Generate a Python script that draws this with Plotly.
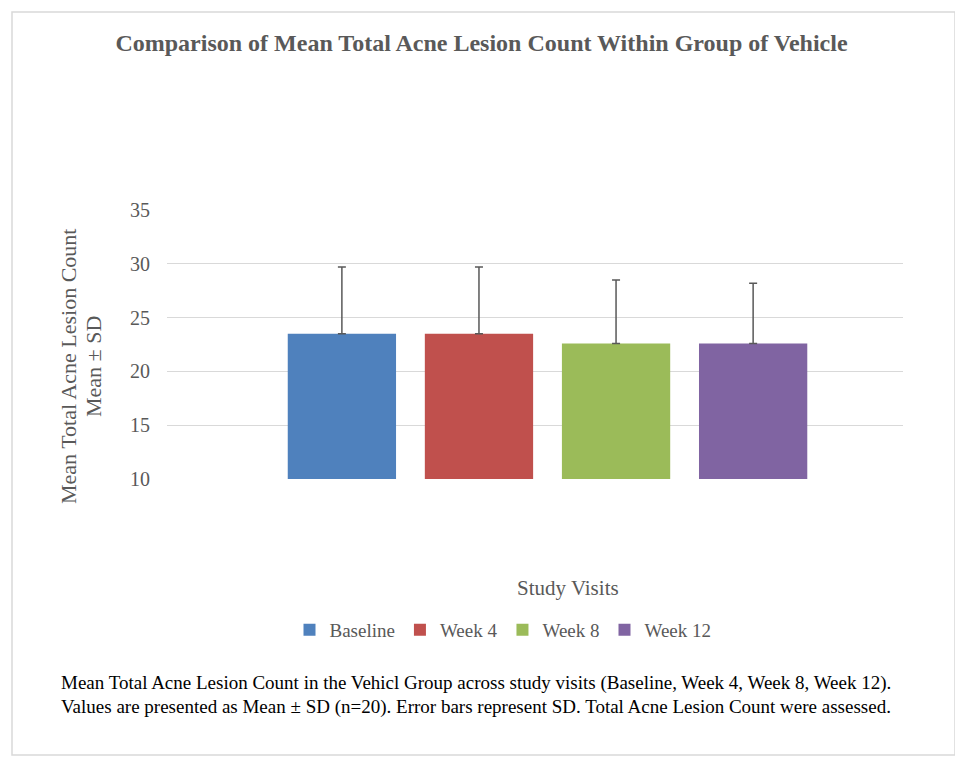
import plotly.graph_objects as go

# Chart data
visits = ["Baseline", "Week 4", "Week 8", "Week 12"]
mean_count = [23.5, 23.5, 22.6, 22.6]
sd_count = [6.2, 6.2, 5.9, 5.6]
group_label = ["Vehicle"]
bar_colors = ["#4F81BD", "#C0504D", "#9BBB59", "#8064A2"]

y_title_lines = ["Mean Total Acne Lesion Count", "Mean ± SD"]
caption_lines = [
    "Mean Total Acne Lesion Count in the Vehicl Group across study visits (Baseline, Week 4, Week 8, Week 12).",
    "Values are presented as Mean ± SD (n=20). Error bars represent SD. Total Acne Lesion Count were assessed.",
]

FONT = "Liberation Serif"
GREY = "#595959"

# The page body has an 8px margin, so the figure is 947x754 drawn at (8, 8).
OFF = 8
W, H = 963 - 2 * OFF, 770 - 2 * OFF
L, R, T, B = 167 - OFF, 963 - 903 - OFF, 210 - OFF, 770 - 479 - OFF
PW, PH = W - L - R, H - T - B


def px_x(x):
    # window pixel -> paper x
    return (x - OFF - L) / PW


def px_y(y):
    # window pixel -> paper y
    return (H - B - (y - OFF)) / PH


fig = go.Figure()

for visit, m, sd, color in zip(visits, mean_count, sd_count, bar_colors):
    fig.add_trace(
        go.Bar(
            name=visit,
            x=group_label,
            y=[m],
            marker=dict(color=color, line=dict(width=0)),
            error_y=dict(
                type="data",
                symmetric=False,
                array=[sd],
                arrayminus=[0],
                color=GREY,
                thickness=1.5,
                width=4,
            ),
        )
    )

# Axis titles and caption as annotations
annotations = [
    dict(
        text="Study Visits",
        x=px_x(568), y=px_y(588), xref="paper", yref="paper",
        showarrow=False,
        font=dict(family=FONT, size=21, color=GREY),
        xanchor="center", yanchor="middle",
    ),
]
for i, line in enumerate(y_title_lines):
    annotations.append(
        dict(
            text=line,
            x=px_x(68 + 25 * i), y=px_y(367), xref="paper", yref="paper",
            textangle=-90, showarrow=False,
            font=dict(family=FONT, size=22, color=GREY),
            xanchor="center", yanchor="middle",
        )
    )
for i, line in enumerate(caption_lines):
    annotations.append(
        dict(
            text=line,
            x=px_x(59), y=px_y(683 + 24 * i), xref="paper", yref="paper",
            showarrow=False, align="left",
            font=dict(family=FONT, size=19, color="#000000"),
            xanchor="left", yanchor="middle",
        )
    )

fig.update_layout(
    title=dict(
        text="<b>Comparison of Mean Total Acne Lesion Count Within Group of Vehicle</b>",
        x=0.5, xanchor="center",
        y=1 - (43 - OFF) / H, yanchor="middle", yref="container",
        font=dict(family=FONT, size=24, color=GREY),
    ),
    barmode="group",
    bargap=0.255,
    bargroupgap=0.21,
    margin=dict(l=L, r=R, t=T, b=B, pad=0),
    paper_bgcolor="white",
    plot_bgcolor="white",
    font=dict(family=FONT, size=19, color=GREY),
    showlegend=True,
    legend=dict(
        orientation="h",
        x=px_x(503), y=px_y(630),
        xanchor="center", yanchor="middle",
        font=dict(family=FONT, size=19, color=GREY),
        itemwidth=30,
        traceorder="normal",
    ),
    annotations=annotations,
    shapes=[
        dict(
            type="rect", xref="paper", yref="paper",
            x0=px_x(12), x1=px_x(955), y0=px_y(755), y1=px_y(12),
            line=dict(color="#D9D9D9", width=1.5),
            fillcolor="rgba(0,0,0,0)", layer="below",
        )
    ],
)

fig.update_xaxes(
    range=[-0.517, 0.483],
    showticklabels=False,
    showgrid=False,
    zeroline=False,
    showline=False,
)
fig.update_yaxes(
    range=[10, 35],
    dtick=5,
    showgrid=True,
    gridcolor="#D9D9D9",
    gridwidth=1,
    zeroline=False,
    showline=False,
    ticks="",
    ticklabelstandoff=16,
    tickfont=dict(family=FONT, size=20, color=GREY),
)

fig.write_html("out.html")
